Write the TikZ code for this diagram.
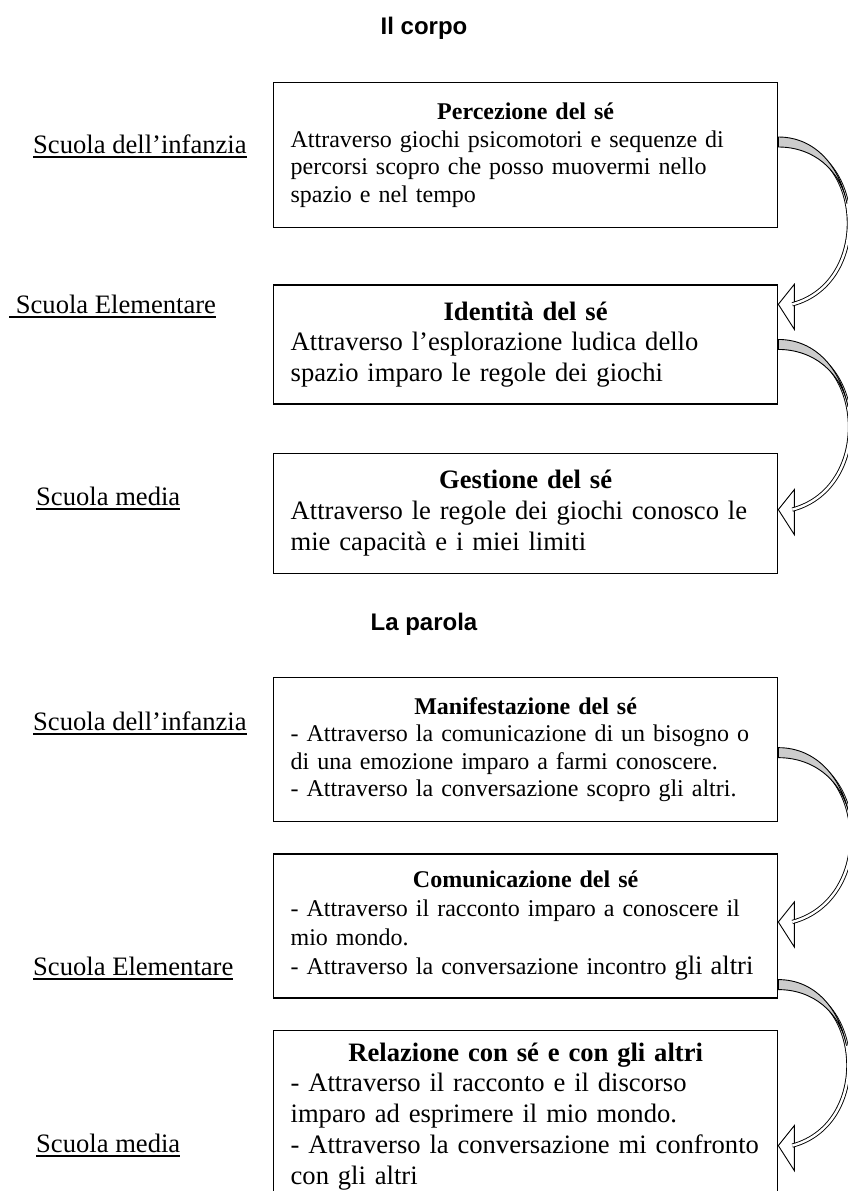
\documentclass[tikz,border=0pt]{standalone}
\usepackage{fontspec}
\setmainfont{Liberation Serif}
\newfontfamily\titlefont{Liberation Sans}
\usetikzlibrary{positioning}
\usetikzlibrary{calc}

\newcommand\piccolo{\fontsize{24}{27.6}\selectfont}
\newcommand\grande{\fontsize{26.6}{30.8}\selectfont}
\newcommand\sottolinea[1]{\setbox0=\hbox{#1}\rlap{\rule[-4.5pt]{\wd0}{1.6pt}}\box0}

\begin{document}
\begin{tikzpicture}
  [x=1pt, y=1pt,
   box/.style = {draw, line width=1.3pt, rectangle, anchor=north west,
                 minimum width=504pt, text width=470pt,
                 inner xsep=17pt, inner ysep=0pt, align=left},
   school/.style = {anchor=base west, inner sep=0pt, font=\grande},
   title/.style = {anchor=base, inner sep=0pt,
                   font=\titlefont\bfseries\fontsize{24}{28}\selectfont},
   shaft/.style = {line width=0.9pt, double=white, double distance=2.4pt}]
  \useasboundingbox (0,0) rectangle (848,-1191);
  \clip (0,0) rectangle (848,-1191);

  \node[title] (corpo) at (424,-34) {Il corpo};
  \node[title] (parola) at (424,-630) {La parola};

  \node[box, minimum height=145pt, font=\piccolo] (perc) at (273,-82)
    {{\centering\bfseries Percezione del sé\par}
     Attraverso giochi psicomotori e sequenze di\\
     percorsi scopro che posso muovermi nello\\
     spazio e nel tempo};
  \node[box, minimum height=119pt, font=\grande] (ident) [below=56pt of perc]
    {{\centering\bfseries Identità del sé\par}
     Attraverso l’esplorazione ludica dello\\
     spazio imparo le regole dei giochi};
  \node[box, minimum height=120pt, font=\grande] (gest) [below=48pt of ident]
    {{\centering\bfseries Gestione del sé\par}
     Attraverso le regole dei giochi conosco le\\
     mie capacità e i miei limiti};

  \node[box, minimum height=144pt, font=\piccolo] (manif) at (273,-677)
    {{\centering\bfseries Manifestazione del sé\par}
     - Attraverso la comunicazione di un bisogno o\\
     di una emozione imparo a farmi conoscere.\\
     - Attraverso la conversazione scopro gli altri.};
  \node[box, minimum height=144pt, font=\fontsize{24}{29}\selectfont] (comun) [below=31pt of manif]
    {{\centering\bfseries Comunicazione del sé\par}
     - Attraverso il racconto imparo a conoscere il\\
     mio mondo.\\
     - Attraverso la conversazione incontro {\grande gli altri}};
  \node[box, minimum height=172pt, font=\grande] (rel) [below=31pt of comun]
    {{\centering\bfseries Relazione con sé e con gli altri\par}
     - Attraverso il racconto e il discorso\\
     imparo ad esprimere il mio mondo.\\
     - Attraverso la conversazione mi confronto\\
     con gli altri};

  \node[school] (inf1) at (33,-153) {\sottolinea{Scuola dell’infanzia}};
  \node[school] (ele1) at (9,-313) {\sottolinea{\ Scuola Elementare}};
  \node[school] (med1) at (36,-505) {\sottolinea{Scuola media}};
  \node[school] (inf2) at (33,-730) {\sottolinea{Scuola dell’infanzia}};
  \node[school] (ele2) at (33,-975) {\sottolinea{Scuola Elementare}};
  \node[school] (med2) at (36,-1152) {\sottolinea{Scuola media}};

  \coordinate (s1) at ($(perc.north east)+(0,-60)$);
  \coordinate (t1) at ($(ident.north east)+(0,-20)$);
  \coordinate (s2) at (ident.east);
  \coordinate (t2) at ($(gest.north east)+(0,-57)$);
  \coordinate (s3) at ($(manif.east)+(0,-3)$);
  \coordinate (t3) at ($(comun.east)+(0,4)$);
  \coordinate (s4) at ($(comun.south east)+(0,14)$);
  \coordinate (t4) at ($(rel.north east)+(0,-116)$);

  \foreach \s/\t in {s1/t1, s2/t2, s3/t3, s4/t4} {
    \filldraw[fill=white, line width=0.9pt] (\t) -- ++(16,20) -- ++(0,-45) -- cycle;
    \draw[shaft] (\s) to[out=0, in=15, looseness=1.35] coordinate[pos=0.45] (w) ($(\t)+(14,0)$);
    \filldraw[fill=gray!40, line width=0.9pt]
      ($(\s)+(0,5)$) to[out=0, in=101] (w) to[out=101, in=0] ($(\s)+(0,-5)$) -- cycle;
  }
\end{tikzpicture}
\end{document}
